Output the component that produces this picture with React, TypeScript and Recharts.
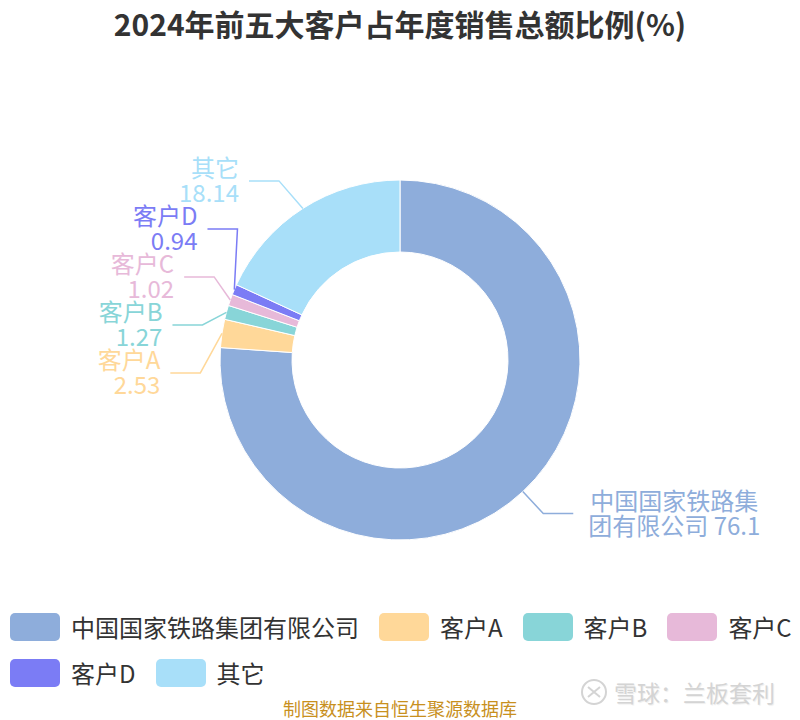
import React from 'react';
import { PieChart, Pie, Cell, Legend } from 'recharts';

const categories = ['中国国家铁路集团有限公司', '客户A', '客户B', '客户C', '客户D', '其它'];
const shares = [76.1, 2.53, 1.27, 1.02, 0.94, 18.14];
const colors = ['#8eaddb', '#ffd899', '#88d5d8', '#e7b9d9', '#7b7cf5', '#a8dff9'];

const TITLE = '2024年前五大客户占年度销售总额比例(%)';
const SOURCE = '制图数据来自恒生聚源数据库';
const WATERMARK = '雪球：兰板套利';

const data = categories.map((name, i) => ({ name, value: shares[i] }));

const FONT = "'Noto Sans CJK SC', 'Noto Sans', sans-serif";
const LABEL_FS = 24;
const LEN1 = 30;
const LEN2 = 30;
const GAP = 10;
const LABEL_H = 48;
const RAD = Math.PI / 180;

let canvasCtx: CanvasRenderingContext2D | null = null;
function measure(text: string): number {
  if (!canvasCtx) {
    const c = document.createElement('canvas');
    canvasCtx = c.getContext('2d');
  }
  if (!canvasCtx) return text.length * LABEL_FS;
  canvasCtx.font = `${LABEL_FS}px ${FONT}`;
  return canvasCtx.measureText(text).width;
}

type LItem = { i: number; sx: number; sy: number; ex: number; ey: number; left: boolean };

function computeLayout(cx: number, cy: number, r: number): LItem[] {
  const total = shares.reduce((a, b) => a + b, 0);
  let cum = 0;
  const items: LItem[] = shares.map((v, i) => {
    const mid = 90 - (360 * (cum + v / 2)) / total;
    cum += v;
    const cos = Math.cos(mid * RAD);
    const sin = Math.sin(mid * RAD);
    const R = r + LEN1;
    return { i, sx: cx + r * cos, sy: cy - r * sin, ex: cx + R * cos, ey: cy - R * sin, left: cos < 0 };
  });
  for (const side of [true, false]) {
    const list = items.filter((it) => it.left === side).sort((a, b) => a.ey - b.ey);
    if (list.length < 2) continue;
    const blocks: { items: LItem[]; pos: number }[] = [];
    list.forEach((it) => {
      blocks.push({ items: [it], pos: it.ey });
      while (blocks.length > 1) {
        const b = blocks[blocks.length - 1];
        const a = blocks[blocks.length - 2];
        if (a.pos + a.items.length * LABEL_H > b.pos) {
          const its = [...a.items, ...b.items];
          const pos = its.reduce((s, x, j) => s + x.ey - j * LABEL_H, 0) / its.length;
          blocks.splice(blocks.length - 2, 2, { items: its, pos });
        } else break;
      }
    });
    let shifted = false;
    blocks.forEach((b) =>
      b.items.forEach((it, j) => {
        const ny = b.pos + j * LABEL_H;
        if (Math.abs(ny - it.ey) > 0.5) shifted = true;
        it.ey = ny;
      })
    );
    if (shifted) {
      const A = r + 20;
      const B = r + 45;
      list.forEach((it) => {
        const dy = it.ey - cy;
        const dx = A * Math.sqrt(Math.max(0, 1 - (dy * dy) / (B * B)));
        it.ex = cx + (side ? -dx : dx);
      });
    }
  }
  return items;
}

function labelLines(name: string, value: number): string[] {
  if (name.length > 7) {
    return [name.slice(0, 7), name.slice(7) + ' ' + String(value)];
  }
  return [name, String(value)];
}

const renderLabel = (props: any) => {
  const { cx, cy, outerRadius, index } = props;
  const L = computeLayout(cx, cy, outerRadius)[index];
  const color = colors[index];
  const dir = L.left ? -1 : 1;
  const hx = L.ex + dir * LEN2;
  const lines = labelLines(categories[index], shares[index]);
  let x = hx - GAP;
  let anchor: 'end' | 'middle' = 'end';
  if (!L.left) {
    const w = Math.max(...lines.map(measure));
    x = hx + 15 + w / 2;
    anchor = 'middle';
  }
  return (
    <g key={`lbl-${index}`}>
      <polyline
        points={`${L.sx},${L.sy} ${L.ex},${L.ey} ${hx},${L.ey}`}
        fill="none"
        stroke={color}
        strokeWidth={1.5}
      />
      {lines.map((ln, k) => (
        <text
          key={k}
          x={x}
          y={L.ey - 14 + k * 25}
          textAnchor={anchor}
          dominantBaseline="central"
          fill={color}
          fontSize={LABEL_FS}
          fontFamily={FONT}
        >
          {ln}
        </text>
      ))}
    </g>
  );
};

const renderLegend = (props: any) => {
  const payload = [...(props.payload || [])].sort(
    (a: any, b: any) => categories.indexOf(a.value) - categories.indexOf(b.value)
  );
  return (
    <div style={{ display: 'flex', flexWrap: 'wrap', columnGap: 20, width: 800, fontFamily: FONT }}>
      {payload.map((p: any, i: number) => (
        <div key={i} style={{ display: 'flex', alignItems: 'center', height: 46 }}>
          <div style={{ width: 50, height: 28, borderRadius: 5, background: p.color, marginRight: 11 }} />
          <span style={{ fontSize: 24, color: '#333', lineHeight: '46px', whiteSpace: 'nowrap' }}>{p.value}</span>
        </div>
      ))}
    </div>
  );
};

export default function App() {
  return (
    <div style={{ position: 'absolute', left: 0, top: 0, width: 800, height: 720, background: '#fff', fontFamily: FONT, overflow: 'hidden' }}>
      <div
        style={{
          position: 'absolute',
          left: 0,
          top: 0,
          width: 800,
          textAlign: 'center',
          fontSize: 30,
          fontWeight: 'bold',
          lineHeight: '46px',
          color: '#333',
          zIndex: 2,
        }}
      >
        {TITLE}
      </div>
      <PieChart width={800} height={720} margin={{ top: 0, right: 0, bottom: 0, left: 0 }}>
        <Pie
          data={data}
          dataKey="value"
          nameKey="name"
          cx={400}
          cy={360}
          innerRadius={108}
          outerRadius={180}
          startAngle={90}
          endAngle={-270}
          label={renderLabel}
          labelLine={false}
          isAnimationActive={false}
          stroke="#fff"
          strokeWidth={1}
        >
          {data.map((d, i) => (
            <Cell key={d.name} fill={colors[i]} />
          ))}
        </Pie>
        <Legend
          content={renderLegend}
          itemSorter={null as any}
          wrapperStyle={{ position: 'absolute', left: 10, top: 604, width: 800 }}
        />
      </PieChart>
      <div
        style={{
          position: 'absolute',
          left: 0,
          top: 697,
          width: 800,
          height: 22,
          textAlign: 'center',
          fontSize: 18,
          lineHeight: '22px',
          color: '#c8901e',
        }}
      >
        {SOURCE}
      </div>
      <div
        style={{
          position: 'absolute',
          left: 580,
          top: 676,
          height: 32,
          display: 'flex',
          alignItems: 'center',
          color: '#d4d4d4',
          fontSize: 23,
          textShadow: '1px 1px 1px #eee',
        }}
      >
        <svg width={28} height={28} style={{ marginRight: 6 }}>
          <circle cx={14} cy={14} r={12} fill="none" stroke="#d4d4d4" strokeWidth={2} />
          <path d="M8 9 L14 14 L8 19 M20 9 L14 14 L20 19" fill="none" stroke="#d4d4d4" strokeWidth={2} />
        </svg>
        <span>{WATERMARK}</span>
      </div>
    </div>
  );
}
